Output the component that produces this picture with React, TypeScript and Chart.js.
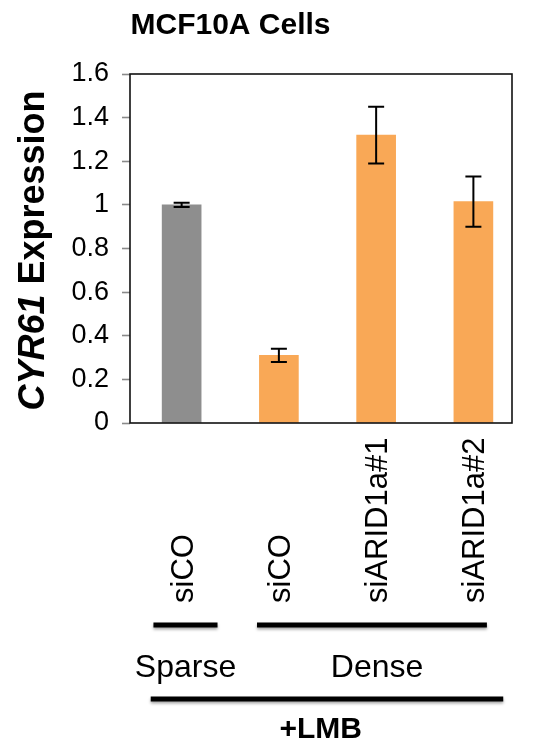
import React, { useEffect, useRef } from "react";
import { Chart, registerables } from "chart.js";

Chart.register(...registerables);

// ---- data ----
const chartTitle = "MCF10A Cells";
const yTitleItalic = "CYR61";
const yTitleRest = " Expression";
const categories = ["siCO", "siCO", "siARID1a#1", "siARID1a#2"];
const values = [1.0, 0.31, 1.32, 1.015];
const errors = [0.01, 0.03, 0.13, 0.115];
const barColors = ["#8e8e8e", "#f9a856", "#f9a856", "#f9a856"];
const yTickValues = [0, 0.2, 0.4, 0.6, 0.8, 1, 1.2, 1.4, 1.6];
const yTickLabels = ["0", "0.2", "0.4", "0.6", "0.8", "1", "1.2", "1.4", "1.6"];
const groupLabels = ["Sparse", "Dense"];
// group bracket extents, in category-axis units
const groupStart = [-0.29, 0.775];
const groupEnd = [0.369, 3.139];
const groupLabelCenter = [0.04, 2.01];
const treatmentLabel = "+LMB";
const treatmentStart = -0.318;
const treatmentEnd = 3.307;
const treatmentLabelCenter = 1.43;

const FONT = '"Liberation Sans", Arial, Helvetica, sans-serif';

const annotationPlugin = {
  id: "annotations",
  afterDatasetsDraw(chart: any) {
    const ctx = chart.ctx;
    const xs = chart.scales.x;
    const ys = chart.scales.y;
    // error bars
    ctx.save();
    ctx.strokeStyle = "#000";
    ctx.lineWidth = 2;
    values.forEach((v, i) => {
      const x = xs.getPixelForValue(i);
      const yt = ys.getPixelForValue(v + errors[i]);
      const yb = ys.getPixelForValue(v - errors[i]);
      ctx.beginPath();
      ctx.moveTo(x, yt);
      ctx.lineTo(x, yb);
      ctx.moveTo(x - 8, yt);
      ctx.lineTo(x + 8, yt);
      ctx.moveTo(x - 8, yb);
      ctx.lineTo(x + 8, yb);
      ctx.stroke();
    });
    ctx.restore();
  },
  afterDraw(chart: any) {
    const ctx = chart.ctx;
    const xs = chart.scales.x;
    const a = chart.chartArea;
    ctx.save();
    // frame
    ctx.strokeStyle = "#111";
    ctx.lineWidth = 1.6;
    ctx.strokeRect(a.left, a.top, a.right - a.left, a.bottom - a.top);

    ctx.fillStyle = "#000";
    // title
    ctx.font = `bold 30px ${FONT}`;
    ctx.textAlign = "center";
    ctx.textBaseline = "alphabetic";
    ctx.fillText(chartTitle, 230.5, 34);

    // y axis title (rotated)
    ctx.save();
    ctx.translate(44, 250.5);
    ctx.rotate(-Math.PI / 2);
    ctx.textAlign = "left";
    const fItal = `italic bold 36px ${FONT}`;
    const fBold = `bold 36px ${FONT}`;
    ctx.font = fItal;
    const w1 = ctx.measureText(yTitleItalic).width;
    ctx.font = fBold;
    const w2 = ctx.measureText(yTitleRest).width;
    const start = -(w1 + w2) / 2;
    ctx.font = fItal;
    ctx.fillText(yTitleItalic, start, 0);
    ctx.font = fBold;
    ctx.fillText(yTitleRest, start + w1, 0);
    ctx.restore();

    // category labels (rotated)
    ctx.font = `31px ${FONT}`;
    categories.forEach((c, i) => {
      const x = xs.getPixelForValue(i);
      ctx.save();
      ctx.translate(x + 11, 603);
      ctx.rotate(-Math.PI / 2);
      ctx.textAlign = "left";
      ctx.fillText(c, 0, 0);
      ctx.restore();
    });

    // group brackets
    ctx.strokeStyle = "#000";
    ctx.lineWidth = 5;
    ctx.shadowColor = "rgba(0,0,0,0.35)";
    ctx.shadowBlur = 3;
    ctx.shadowOffsetY = 2;
    groupLabels.forEach((g, i) => {
      ctx.beginPath();
      ctx.moveTo(xs.getPixelForValue(groupStart[i]), 625);
      ctx.lineTo(xs.getPixelForValue(groupEnd[i]), 625);
      ctx.stroke();
    });
    ctx.beginPath();
    ctx.moveTo(xs.getPixelForValue(treatmentStart), 699);
    ctx.lineTo(xs.getPixelForValue(treatmentEnd), 699);
    ctx.stroke();
    ctx.shadowColor = "transparent";
    ctx.shadowBlur = 0;
    ctx.shadowOffsetY = 0;

    ctx.textAlign = "center";
    ctx.font = `32px ${FONT}`;
    groupLabels.forEach((g, i) => {
      ctx.fillText(g, xs.getPixelForValue(groupLabelCenter[i]), 677);
    });
    ctx.font = `bold 30px ${FONT}`;
    ctx.fillText(treatmentLabel, xs.getPixelForValue(treatmentLabelCenter), 738);
    ctx.restore();
  },
};

export default function App() {
  const ref = useRef<HTMLCanvasElement | null>(null);
  useEffect(() => {
    if (!ref.current) return;
    const chart = new Chart(ref.current, {
      type: "bar",
      data: {
        datasets: [
          {
            data: values.map((v, i) => ({ x: i, y: v })),
            backgroundColor: barColors,
            borderWidth: 0,
            barThickness: 39,
          } as any,
        ],
      },
      options: {
        animation: false,
        responsive: false,
        devicePixelRatio: 1,
        layout: { padding: { left: 0, top: 74, right: 21, bottom: 323 } },
        plugins: {
          legend: { display: false },
          tooltip: { enabled: false },
          title: { display: false },
        },
        scales: {
          x: {
            type: "linear",
            min: -0.531,
            max: 3.397,
            offset: false,
            display: false,
          },
          y: {
            min: 0,
            max: 1.6,
            afterFit: (s: any) => {
              s.width = 130;
            },
            afterBuildTicks: (s: any) => {
              s.ticks = yTickValues.map((v) => ({ value: v }));
            },
            border: { display: false },
            grid: {
              drawOnChartArea: false,
              drawTicks: true,
              tickLength: 8,
              tickColor: "#8a8a8a",
              tickWidth: 1.6,
            },
            ticks: {
              padding: 13,
              color: "#000",
              font: { family: FONT, size: 27 },
              callback: (v: any) => {
                const idx = yTickValues.findIndex((t) => Math.abs(t - Number(v)) < 1e-9);
                return idx >= 0 ? yTickLabels[idx] : "";
              },
            },
          },
        },
      },
      plugins: [annotationPlugin],
    });
    return () => chart.destroy();
  }, []);
  return (
    <div style={{ position: "fixed", left: 0, top: 0, width: 533, height: 746, background: "#fff" }}>
      <canvas ref={ref} width={533} height={746} style={{ width: 533, height: 746, display: "block" }} />
    </div>
  );
}
